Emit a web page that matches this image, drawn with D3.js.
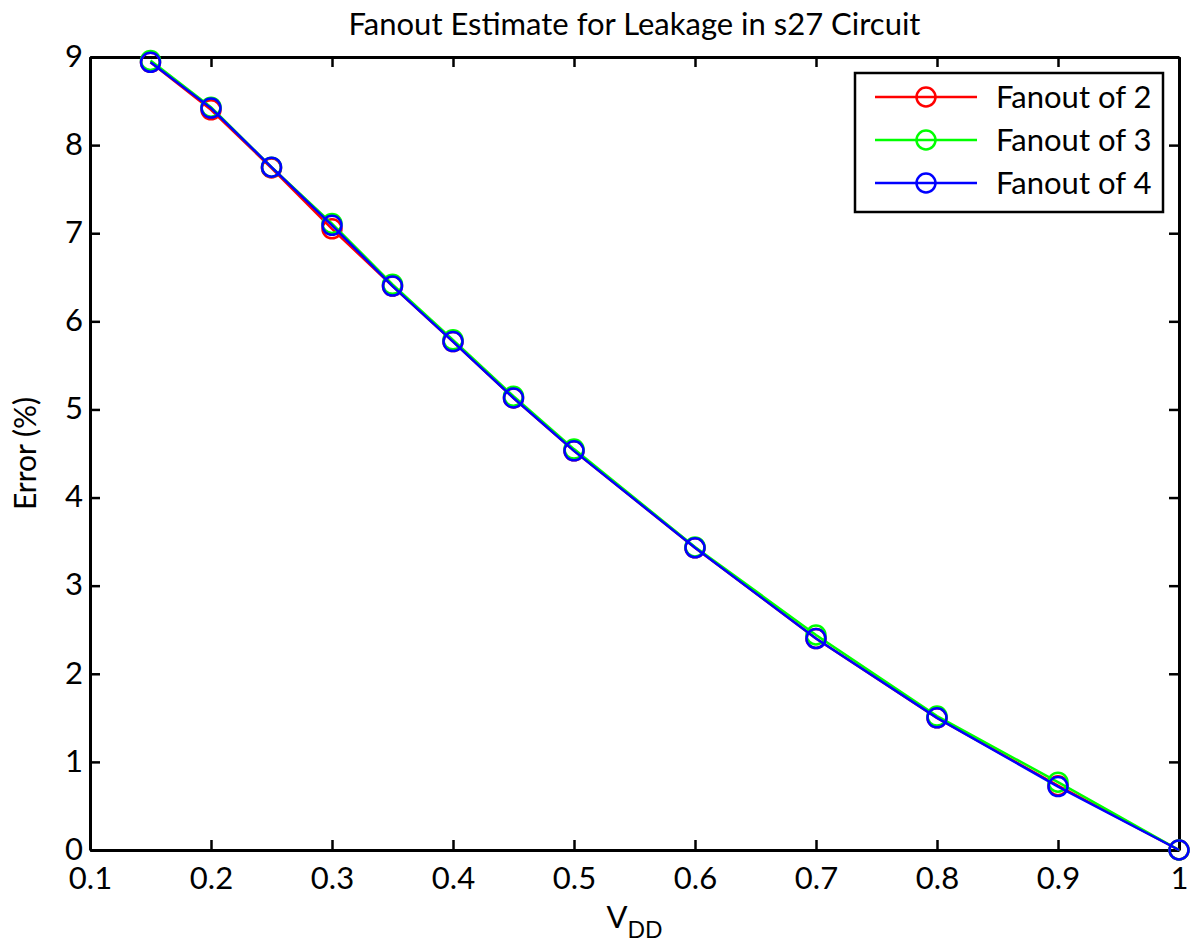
<!DOCTYPE html>
<html>
<head>
<meta charset="utf-8">
<script src="https://cdn.jsdelivr.net/npm/d3@7"></script>
<style>
  body { margin: 0; background: #fff; }
  text { font-family: Lato, "Open Sans", sans-serif; fill: #000; }
</style>
</head>
<body>
<svg id="chart"></svg>
<script>
const vdd = [0.15, 0.2, 0.25, 0.3, 0.35, 0.4, 0.45, 0.5, 0.6, 0.7, 0.8, 0.9, 1.0];
const fanout2 = [8.94, 8.40, 7.74, 7.05, 6.40, 5.77, 5.13, 4.53, 3.43, 2.40, 1.50, 0.73, 0];
const fanout3 = [8.96, 8.43, 7.75, 7.11, 6.42, 5.79, 5.15, 4.55, 3.44, 2.44, 1.52, 0.77, 0];
const fanout4 = [8.94, 8.42, 7.75, 7.09, 6.40, 5.77, 5.13, 4.53, 3.43, 2.40, 1.50, 0.72, 0];
const seriesNames = ["Fanout of 2", "Fanout of 3", "Fanout of 4"];
const seriesColors = ["#ff0000", "#00ff00", "#0000ff"];
const xTicks = [0.1, 0.2, 0.3, 0.4, 0.5, 0.6, 0.7, 0.8, 0.9, 1];
const yTicks = [0, 1, 2, 3, 4, 5, 6, 7, 8, 9];

const width = 1198, height = 947;
const margin = { top: 57, right: 19, bottom: 97, left: 90 };
const svg = d3.select("#chart").attr("width", width).attr("height", height);

const x = d3.scaleLinear().domain([0.1, 1]).range([margin.left, width - margin.right]);
const y = d3.scaleLinear().domain([0, 9]).range([height - margin.bottom, margin.top]);

const series = [fanout2, fanout3, fanout4].map((vals, i) => ({
  name: seriesNames[i],
  color: seriesColors[i],
  points: vals.map((v, j) => [vdd[j], v]),
}));

// axes box with inward ticks
const tickLen = 10;
const axisStyle = (g) => {
  g.selectAll(".domain").attr("stroke", "#000").attr("stroke-width", 3);
  g.selectAll(".tick line").attr("stroke", "#000").attr("stroke-width", 2.5);
};
svg.append("g")
  .attr("transform", `translate(0,${y(0)})`)
  .call(d3.axisBottom(x).tickValues(xTicks).tickFormat(d3.format("~g"))
    .tickSizeInner(-tickLen).tickSizeOuter(0).tickPadding(17))
  .call(axisStyle)
  .call((g) => g.selectAll("text").attr("font-size", 31).attr("dy", "0.72em"));
svg.append("g")
  .attr("transform", `translate(0,${y(9)})`)
  .call(d3.axisTop(x).tickValues(xTicks).tickFormat("").tickSizeInner(-tickLen).tickSizeOuter(0))
  .call(axisStyle);
svg.append("g")
  .attr("transform", `translate(${x(0.1)},0)`)
  .call(d3.axisLeft(y).tickValues(yTicks).tickSizeInner(-tickLen).tickSizeOuter(0).tickPadding(7))
  .call(axisStyle)
  .call((g) => g.selectAll("text").attr("font-size", 31).attr("dy", "0.3em"));
svg.append("g")
  .attr("transform", `translate(${x(1)},0)`)
  .call(d3.axisRight(y).tickValues(yTicks).tickFormat("").tickSizeInner(-tickLen).tickSizeOuter(0))
  .call(axisStyle);

// lines and markers
const line = d3.line().x((d) => x(d[0])).y((d) => y(d[1]));
series.forEach((s) => {
  svg.append("path")
    .datum(s.points)
    .attr("d", line)
    .attr("fill", "none")
    .attr("stroke", s.color)
    .attr("stroke-width", 2.5);
  svg.append("g")
    .selectAll("circle")
    .data(s.points)
    .join("circle")
    .attr("cx", (d) => x(d[0]))
    .attr("cy", (d) => y(d[1]))
    .attr("r", 9.5)
    .attr("fill", "none")
    .attr("stroke", s.color)
    .attr("stroke-width", 2.5);
});

// title and labels
svg.append("text")
  .attr("x", (x(0.1) + x(1)) / 2)
  .attr("y", 35)
  .attr("text-anchor", "middle")
  .attr("font-size", 31)
  .text("Fanout Estimate for Leakage in s27 Circuit");

svg.append("text")
  .attr("transform", `translate(36,${(y(0) + y(9)) / 2}) rotate(-90)`)
  .attr("text-anchor", "middle")
  .attr("font-size", 30)
  .text("Error (%)");

const xl = svg.append("text")
  .attr("x", (x(0.1) + x(1)) / 2)
  .attr("y", 928)
  .attr("text-anchor", "middle")
  .attr("font-size", 31);
xl.append("tspan").text("V");
xl.append("tspan").attr("dy", 10).attr("font-size", 23).text("DD");

// legend
const lg = svg.append("g").attr("transform", "translate(855,73)");
lg.append("rect")
  .attr("width", 308).attr("height", 139)
  .attr("fill", "#fff").attr("stroke", "#000").attr("stroke-width", 2.5);
series.forEach((s, i) => {
  const row = lg.append("g").attr("transform", `translate(0,${24 + i * 43})`);
  row.append("line").attr("x1", 20).attr("x2", 122)
    .attr("stroke", s.color).attr("stroke-width", 2.5);
  row.append("circle").attr("cx", 71).attr("r", 9.5)
    .attr("fill", "none").attr("stroke", s.color).attr("stroke-width", 2.5);
  row.append("text").attr("x", 141).attr("dy", "0.36em")
    .attr("font-size", 31).text(s.name);
});
</script>
</body>
</html>
